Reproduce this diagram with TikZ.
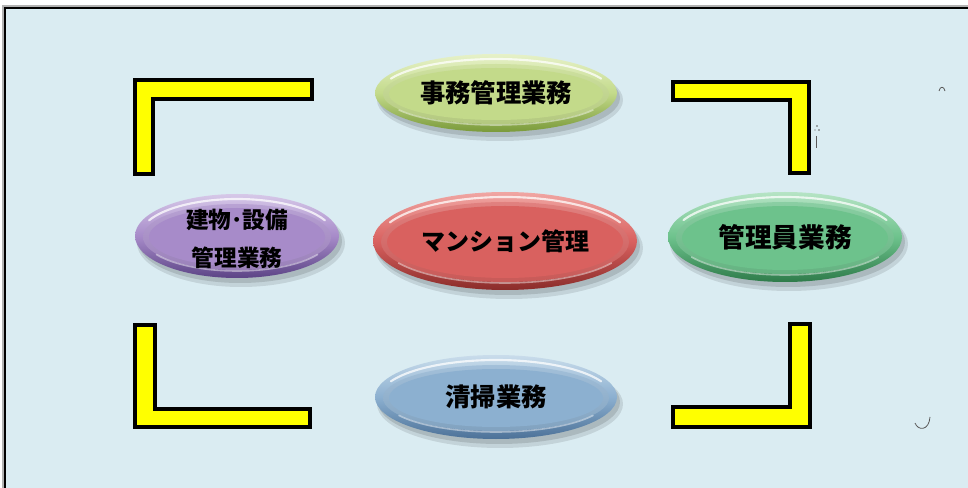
\documentclass[tikz,border=0pt]{standalone}
\usepackage{fontspec}
\newfontfamily\jp{Noto Sans CJK JP}
\definecolor{bg}{HTML}{DAECF2}
\definecolor{yel}{HTML}{FFFF00}
\definecolor{gM}{HTML}{C3DA8A}\definecolor{gL}{HTML}{E6F1C8}\definecolor{gD}{HTML}{7A9A3A}
\definecolor{rM}{HTML}{D9615F}\definecolor{rL}{HTML}{F0A6A3}\definecolor{rD}{HTML}{8A2C2A}
\definecolor{pM}{HTML}{A78BC9}\definecolor{pL}{HTML}{D6C8E8}\definecolor{pD}{HTML}{5C4486}
\definecolor{mM}{HTML}{6DC28C}\definecolor{mL}{HTML}{B6E4C5}\definecolor{mD}{HTML}{2E7B4A}
\definecolor{bM}{HTML}{8CB0D0}\definecolor{bL}{HTML}{C9DCEB}\definecolor{bD}{HTML}{4C7198}
\tikzset{
  bracket/.style={fill=yel, draw=black, line width=2.4pt, line join=miter},
  txt/.style={font=\jp\bfseries\fontsize{19}{22}\selectfont, text=black, inner sep=0pt, align=center},
  straymark/.style={draw=gray!70!black, line width=0.6pt},
}
% #1 name, #2 x, #3 y, #4 rx, #5 ry, #6 colour prefix, #7 text, #8 extra options
\newcommand\bubble[8]{%
  \fill[black, opacity=0.10] (#2+4,#3+7) ellipse [x radius=#4+2, y radius=#5+2];
  \fill[black, opacity=0.12] (#2+3,#3+5) ellipse [x radius=#4, y radius=#5];
  \shade[top color=#6L, bottom color=#6D, middle color=#6M] (#2,#3) ellipse [x radius=#4, y radius=#5];
  \shade[top color=#6M!80!white, bottom color=#6M!92!black] (#2,#3+1) ellipse [x radius=#4-8, y radius=#5-9];
  \fill[#6M] (#2,#3+1) ellipse [x radius=#4-14, y radius=#5-13];
  \draw[white, opacity=0.75, line width=1.6pt, line cap=round] (#2,#3) ++(205:#4-5 and #5-5) arc [start angle=205, end angle=335, x radius=#4-5, y radius=#5-5];
  \draw[white, opacity=0.45, line width=1.2pt, line cap=round] (#2,#3+2) ++(30:#4-9 and #5-9) arc [start angle=30, end angle=150, x radius=#4-9, y radius=#5-9];
  \node[txt, #8] (#1) at (#2,#3) {#7};
}
\begin{document}
\begin{tikzpicture}[x=0.75pt,y=-0.75pt]
\useasboundingbox (0,0) rectangle (968,488);
\clip (0,0) rectangle (968,488);
\fill[white] (0,0) rectangle (968,488);
\fill[bg] (5,8) rectangle (975,495);
\draw[gray!60, line width=1.2pt] (3,6) rectangle (977,497);
\draw[black, line width=1.6pt] (5,8) rectangle (975,495);

% yellow brackets
\draw[bracket] (135,80) -- (312,80) -- (312,99) -- (153,99) -- (153,174) -- (135,174) -- cycle;
\draw[bracket] (673,82) -- (809,82) -- (809,173) -- (790,173) -- (790,100) -- (673,100) -- cycle;
\draw[bracket] (135,325) -- (155,325) -- (155,409) -- (310,409) -- (310,427) -- (135,427) -- cycle;
\draw[bracket] (673,407) -- (790,407) -- (790,324) -- (810,324) -- (810,427) -- (673,427) -- cycle;

% bubbles
\bubble{jimu}{496}{93}{121}{39}{g}{事務管理業務}{}
\bubble{mansion}{505}{241}{132}{49}{r}{マンション管理}{font=\jp\bfseries\fontsize{18}{22}\selectfont}
\bubble{tatemono}{237}{236}{102}{42}{p}{建物･設備\\管理業務}{font=\jp\bfseries\fontsize{17}{28.5}\selectfont, yshift=-2pt}
\bubble{kanriin}{785}{237}{117}{45}{m}{管理員業務}{font=\jp\bfseries\fontsize{20}{22}\selectfont}
\bubble{seisou}{496}{397}{121}{42}{b}{清掃業務}{}

% stray marks
\draw[straymark] (939,91) .. controls (940,86) and (944,86) .. (945,91);
\draw[straymark] (816,136) -- (816,148);
\fill[gray!70!black] (817,126) circle (0.8) (819,130) circle (0.8) (815,130) circle (0.6);
\draw[straymark] (915,423) .. controls (918,431) and (929,431) .. (930,417);
\end{tikzpicture}
\end{document}
